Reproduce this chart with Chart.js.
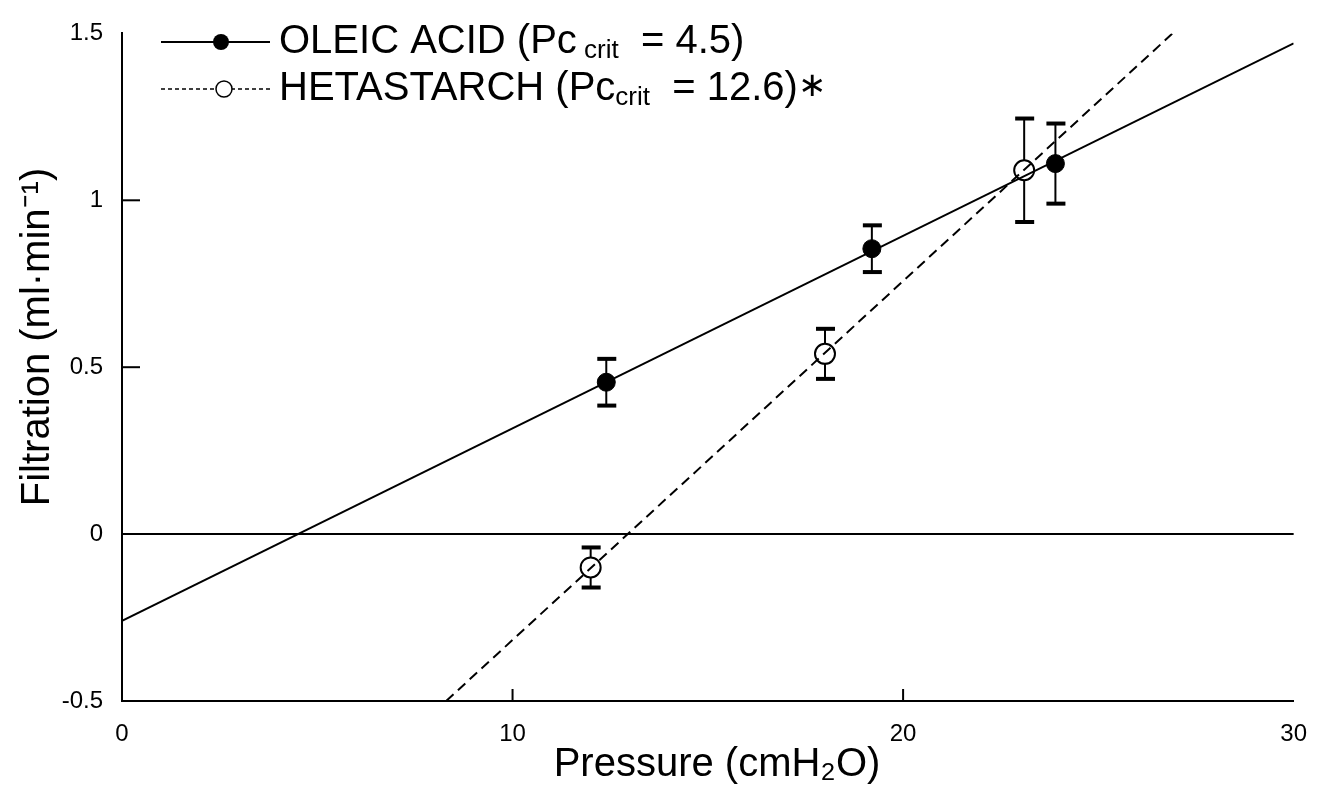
<!DOCTYPE html>
<html>
<head>
<meta charset="utf-8">
<script src="https://cdn.jsdelivr.net/npm/chart.js@4.4.1/dist/chart.umd.min.js"></script>
<style>
  body { margin: 0; background: #fff; }
  canvas { display: block; }
</style>
</head>
<body>
<canvas id="grafico" width="1326" height="792"></canvas>
<script>
// datos
const oleicX = [12.4, 19.2, 23.9];
const oleicY = [0.455, 0.855, 1.11];
const oleicErr = [0.07, 0.07, 0.12];

const hetaX = [12.0, 18.0, 23.1];
const hetaY = [-0.10, 0.54, 1.09];
const hetaErr = [0.06, 0.075, 0.155];

// rectas de regresion (extremos)
const oleicFitX = [0, 30];
const oleicFitY = [-0.26, 1.47];
const hetaFitX = [8.3, 26.9];
const hetaFitY = [-0.5, 1.5];

const xTicks = [0, 10, 20, 30];
const yTicks = [-0.5, 0, 0.5, 1, 1.5];
const yTickLabels = ["-0.5", "0", "0.5", "1", "1.5"];

const xTitle = "Pressure (cmH\u2082O)";
const yTitle = "Filtration (ml\u00B7min\u207B\u00B9)";

const FONT = "'Liberation Sans', Arial, sans-serif";

const pts = (xs, ys) => xs.map((x, i) => ({ x: x, y: ys[i] }));

// barras de error, linea del cero, titulos y leyenda
const extras = {
  id: "extras",
  beforeDatasetsDraw(chart) {
    const ctx = chart.ctx;
    const xs = chart.scales.x, ys = chart.scales.y;
    ctx.save();
    ctx.strokeStyle = "#000";
    ctx.fillStyle = "#000";
    // linea y = 0
    ctx.lineWidth = 2;
    ctx.beginPath();
    ctx.moveTo(xs.getPixelForValue(0), ys.getPixelForValue(0));
    ctx.lineTo(xs.getPixelForValue(30), ys.getPixelForValue(0));
    ctx.stroke();
    // marcas hacia adentro
    [0.5, 1].forEach(v => {
      const py = ys.getPixelForValue(v);
      ctx.beginPath();
      ctx.moveTo(xs.left, py);
      ctx.lineTo(xs.left + 18, py);
      ctx.stroke();
    });
    [10, 20].forEach(v => {
      const px = xs.getPixelForValue(v);
      ctx.beginPath();
      ctx.moveTo(px, ys.bottom);
      ctx.lineTo(px, ys.bottom - 12);
      ctx.stroke();
    });
    // barras de error
    const bars = (X, Y, E) => {
      X.forEach((x, i) => {
        const px = xs.getPixelForValue(x);
        const top = ys.getPixelForValue(Y[i] + E[i]);
        const bot = ys.getPixelForValue(Y[i] - E[i]);
        ctx.lineWidth = 2;
        ctx.beginPath();
        ctx.moveTo(px, top);
        ctx.lineTo(px, bot);
        ctx.stroke();
        ctx.fillRect(px - 9, top - 2, 19, 4);
        ctx.fillRect(px - 9, bot - 2, 19, 4);
      });
    };
    bars(oleicX, oleicY, oleicErr);
    bars(hetaX, hetaY, hetaErr);
    ctx.restore();
  },
  afterDraw(chart) {
    const ctx = chart.ctx;
    ctx.save();
    ctx.fillStyle = "#000";
    ctx.strokeStyle = "#000";
    ctx.textBaseline = "middle";

    // titulos de ejes
    ctx.font = "40px " + FONT;
    ctx.textAlign = "center";
    ctx.fillText(xTitle, 717, 765);
    ctx.save();
    ctx.translate(38, 337);
    ctx.rotate(-Math.PI / 2);
    ctx.fillText(yTitle, 0, 0);
    ctx.restore();

    // leyenda
    const drawParts = (parts, x, y) => {
      ctx.textAlign = "left";
      parts.forEach(p => {
        ctx.font = p.size + "px " + FONT;
        ctx.fillText(p.t, x, y + (p.dy || 0));
        x += ctx.measureText(p.t).width;
      });
    };
    ctx.lineWidth = 2;
    // fila 1
    ctx.beginPath();
    ctx.moveTo(161, 42); ctx.lineTo(270, 42);
    ctx.stroke();
    ctx.beginPath();
    ctx.arc(221, 42, 8, 0, Math.PI * 2);
    ctx.fill();
    drawParts([
      { t: "OLEIC ACID (Pc", size: 40 },
      { t: " crit", size: 26, dy: 9 },
      { t: "  = 4.5)", size: 40 }
    ], 279, 42);
    // fila 2
    ctx.setLineDash([4, 3]);
    ctx.lineWidth = 1.5;
    ctx.beginPath();
    ctx.moveTo(161, 89); ctx.lineTo(270, 89);
    ctx.stroke();
    ctx.setLineDash([]);
    ctx.beginPath();
    ctx.arc(224, 89, 8, 0, Math.PI * 2);
    ctx.fillStyle = "#fff";
    ctx.fill();
    ctx.stroke();
    ctx.fillStyle = "#000";
    drawParts([
      { t: "HETASTARCH (Pc", size: 40 },
      { t: "crit", size: 26, dy: 9 },
      { t: "  = 12.6)", size: 40 },
      { t: "\u2217", size: 34, dy: -2 }
    ], 279, 89);
    ctx.restore();
  }
};

const ctx = document.getElementById("grafico").getContext("2d");

new Chart(ctx, {
  type: "scatter",
  data: {
    datasets: [
      {
        label: "OLEIC ACID fit",
        data: pts(oleicFitX, oleicFitY),
        showLine: true,
        borderColor: "#000",
        borderWidth: 2,
        pointRadius: 0
      },
      {
        label: "HETASTARCH fit",
        data: pts(hetaFitX, hetaFitY),
        showLine: true,
        borderColor: "#000",
        borderWidth: 2,
        borderDash: [10, 6],
        pointRadius: 0
      },
      {
        label: "OLEIC ACID",
        data: pts(oleicX, oleicY),
        pointRadius: 9,
        pointBackgroundColor: "#000",
        pointBorderColor: "#000",
        pointBorderWidth: 1
      },
      {
        label: "HETASTARCH",
        data: pts(hetaX, hetaY),
        pointRadius: 10,
        pointBackgroundColor: "#fff",
        pointBorderColor: "#000",
        pointBorderWidth: 2
      }
    ]
  },
  options: {
    responsive: false,
    animation: false,
    layout: { padding: { left: 0, right: 31, top: 21, bottom: 0 } },
    plugins: {
      legend: { display: false },
      tooltip: { enabled: false }
    },
    scales: {
      x: {
        type: "linear",
        min: 0,
        max: 30,
        afterBuildTicks: s => { s.ticks = xTicks.map(v => ({ value: v })); },
        afterFit: s => { s.height = 91; },
        grid: { display: false, drawTicks: false },
        border: { display: true, color: "#000", width: 2 },
        ticks: { color: "#000", padding: 19, font: { family: FONT, size: 24 }, maxRotation: 0 }
      },
      y: {
        type: "linear",
        min: -0.5,
        max: 1.5,
        afterBuildTicks: s => { s.ticks = yTicks.map(v => ({ value: v })); },
        afterFit: s => { s.width = 122; },
        grid: { display: false, drawTicks: false },
        border: { display: true, color: "#000", width: 2 },
        ticks: {
          color: "#000",
          padding: 19,
          font: { family: FONT, size: 24 },
          callback: (v, i) => yTickLabels[i]
        }
      }
    }
  },
  plugins: [extras]
});
</script>
</body>
</html>
